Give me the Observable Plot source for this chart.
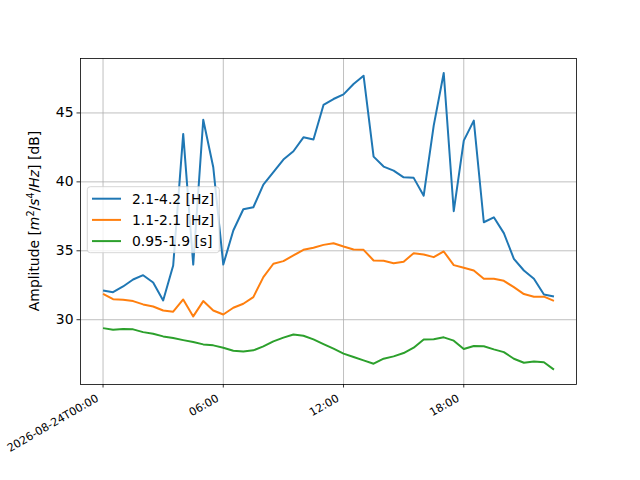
<!DOCTYPE html>
<html><head><meta charset="utf-8">
<script src="https://cdn.jsdelivr.net/npm/d3@7"></script>
<script src="https://cdn.jsdelivr.net/npm/@observablehq/plot@0.6"></script>
<style>body{margin:0;background:#fff}#chart svg{display:block}</style>
</head><body><div id="chart"></div>
<script>
const day = "2026-08-24";
const times = ["00:00","00:30","01:00","01:30","02:00","02:30","03:00","03:30","04:00","04:30",
  "05:00","05:30","06:00","06:30","07:00","07:30","08:00","08:30","09:00","09:30",
  "10:00","10:30","11:00","11:30","12:00","12:30","13:00","13:30","14:00","14:30",
  "15:00","15:30","16:00","16:30","17:00","17:30","18:00","18:30","19:00","19:30",
  "20:00","20:30","21:00","21:30","22:00","22:30"];
const seriesNames = ["2.1-4.2 [Hz]", "1.1-2.1 [Hz]", "0.95-1.9 [s]"];
const seriesColors = ["#1f77b4", "#ff7f0e", "#2ca02c"];
const band1 = [32.12,32.0,32.41,32.92,33.23,32.70,31.40,33.93,43.48,34.0,
  44.51,41.06,34.0,36.47,38.01,38.16,39.80,40.70,41.62,42.22,
  43.23,43.07,45.58,46.01,46.35,47.10,47.70,41.83,41.11,40.82,
  40.33,40.29,39.0,44.08,47.90,37.87,42.99,44.44,37.07,37.43,
  36.28,34.42,33.57,32.97,31.83,31.69];
const band2 = [31.88,31.49,31.45,31.35,31.11,30.96,30.67,30.58,31.47,30.24,
  31.35,30.67,30.38,30.87,31.16,31.64,33.09,34.06,34.25,34.66,
  35.07,35.22,35.43,35.55,35.31,35.09,35.07,34.30,34.28,34.10,
  34.20,34.83,34.73,34.54,34.95,33.96,33.77,33.57,32.97,32.97,
  32.82,32.36,31.86,31.67,31.67,31.37];
const band3 = [29.39,29.27,29.32,29.30,29.10,28.98,28.79,28.67,28.52,28.38,
  28.21,28.14,27.97,27.75,27.70,27.78,28.07,28.43,28.70,28.93,
  28.84,28.57,28.23,27.90,27.54,27.29,27.05,26.81,27.17,27.34,
  27.58,27.97,28.57,28.59,28.72,28.48,27.87,28.09,28.07,27.85,
  27.65,27.17,26.88,26.96,26.91,26.38];
const xTickLabels = ["00:00","06:00","12:00","18:00"];
const yTicks = [30, 35, 40, 45];
const xDomain = ["2026-08-23T22:52:30Z", "2026-08-24T23:37:30Z"];
const yDomain = [25.3, 48.95];

const toDate = t => new Date(`${day}T${t}:00Z`);
const allSeries = [band1, band2, band3];
const rows = allSeries.flatMap((vals, s) => vals.map((v, i) => ({time: toDate(times[i]), value: v, series: seriesNames[s]})));
const xTicks = xTickLabels.map(toDate);
const fmt = d3.utcFormat("%H:%M");
const xFmt = (d, i) => i === 0 ? `${day}T${fmt(d)}` : fmt(d);

const grid = {stroke: "#b0b0b0", strokeOpacity: 1, strokeWidth: 0.8};
const chart = Plot.plot({
  width: 640, height: 480,
  marginLeft: 80, marginRight: 64, marginTop: 58, marginBottom: 96,
  style: {fontFamily: "DejaVu Sans, sans-serif", fontSize: "13.9px", background: "white", color: "black", overflow: "visible"},
  x: {type: "utc", domain: xDomain.map(d => new Date(d))},
  y: {domain: yDomain},
  color: {domain: seriesNames, range: seriesColors},
  marks: [
    Plot.gridX(xTicks, grid),
    Plot.gridY(yTicks, grid),
    Plot.line(rows, {x: "time", y: "value", stroke: "series", z: "series", strokeWidth: 2, strokeLinejoin: "round", strokeLinecap: "butt"}),
    Plot.frame({stroke: "black", strokeWidth: 0.8}),
    Plot.axisX(xTicks, {tickSize: 3.5, tickFormat: () => "", label: null, strokeWidth: 0.8}),
    Plot.axisX(xTicks, {tickFormat: xFmt, tickRotate: -30, tickSize: 0, tickPadding: 9.5, dx: -5.5, dy: 3.5, fontSize: 11.1, label: null}),
    Plot.axisY(yTicks, {tickSize: 3.5, tickPadding: 3.5, fontSize: 13.9, label: null, strokeWidth: 0.8})
  ]
});
document.getElementById("chart").appendChild(chart);

const svg = d3.select(chart);
// y label with math-style superscripts
const yl = svg.append("text")
  .attr("transform", "translate(35,221) rotate(-90)")
  .attr("text-anchor", "middle")
  .attr("dominant-baseline", "middle")
  .attr("font-size", 13.9)
  .attr("fill", "black");
yl.append("tspan").text("Amplitude [");
yl.append("tspan").attr("font-style", "italic").text("m");
yl.append("tspan").attr("baseline-shift", "40%").attr("font-size", 9.7).text("2");
yl.append("tspan").text("/");
yl.append("tspan").attr("font-style", "italic").text("s");
yl.append("tspan").attr("baseline-shift", "40%").attr("font-size", 9.7).text("4");
yl.append("tspan").text("/");
yl.append("tspan").attr("font-style", "italic").text("Hz");
yl.append("tspan").text("] [dB]");

// legend
const lg = svg.append("g");
lg.append("rect").attr("x", 87.3).attr("y", 186.7).attr("width", 132).attr("height", 66)
  .attr("rx", 3).attr("fill", "white").attr("fill-opacity", 0.8).attr("stroke", "#cccccc").attr("stroke-width", 0.8);
seriesNames.forEach((name, i) => {
  const y = 198.7 + i * 21.2;
  lg.append("line").attr("x1", 92).attr("x2", 121).attr("y1", y).attr("y2", y)
    .attr("stroke", seriesColors[i]).attr("stroke-width", 2);
  lg.append("text").attr("x", 132).attr("y", y + 5).attr("text-anchor", "start")
    .attr("font-size", 13.9).attr("fill", "black").text(name);
});
</script>
</body></html>
